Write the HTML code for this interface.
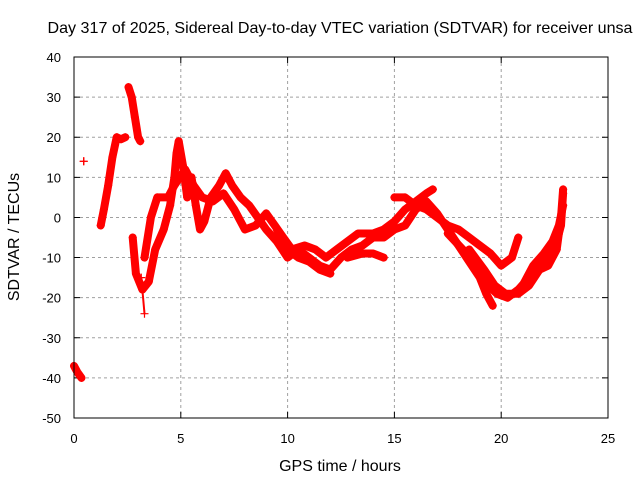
<!DOCTYPE html>
<html><head><meta charset="utf-8"><style>
body{margin:0;background:#fff;}
svg{display:block;font-family:"Liberation Sans",sans-serif;}
</style></head><body>
<svg id="chart" width="640" height="480" viewBox="0 0 640 480">
<text x="340" y="33" font-size="16" text-anchor="middle" textLength="585" lengthAdjust="spacingAndGlyphs">Day 317 of 2025, Sidereal Day-to-day VTEC variation (SDTVAR) for receiver unsa</text>
<text transform="translate(19,237) rotate(-90)" font-size="16" text-anchor="middle">SDTVAR / TECUs</text>
<text x="340" y="471" font-size="16" text-anchor="middle">GPS time / hours</text>
<g id="grid"></g>
<g id="ticks"></g>
<g id="series"></g>
<rect x="74" y="57" width="534" height="361" fill="none" stroke="#000" stroke-width="1"/>
</svg>
<script>
const xTicks=[0,5,10,15,20,25];
const yTicks=[40,30,20,10,0,-10,-20,-30,-40,-50];
const traceA=[[0,-37],[0.15,-38.5],[0.35,-40]];
const traceB=[[0.45,14],[0.46,14]];
const traceC=[[1.25,-2],[1.4,2],[1.6,8],[1.8,15],[2.0,20],[2.2,19.5],[2.4,20]];
const traceD=[[2.55,32.5],[2.7,30],[2.85,25],[3.0,20],[3.1,19]];
const traceE=[[2.75,-5],[2.9,-14],[3.2,-18],[3.5,-16],[3.8,-8],[4.2,-3],[4.5,3],[4.7,10],[4.8,16],[4.9,19],[5.1,13],[5.3,5],[5.5,10],[5.7,3],[5.9,-3],[6.1,-1],[6.4,5],[6.8,8],[7.1,11],[7.4,8],[7.8,5],[8.2,3],[8.6,0],[9.0,-3],[9.5,-6],[10,-10],[10.5,-8],[11,-10],[11.5,-12],[12,-13],[12.5,-10],[13,-8],[13.5,-7],[14,-5],[14.5,-5],[15,-3],[15.5,-2],[16,2],[16.5,4],[17,1],[17.5,-3],[18,-7],[18.5,-11],[19,-15],[19.3,-19],[19.6,-22]];
const traceE2=[[3.15,-15],[3.3,-24]];
const traceF=[[3.3,-10],[3.6,0],[3.9,5],[4.4,5],[4.7,8],[5.2,12],[5.6,8],[6,5],[6.5,4],[7,6],[7.5,2],[8,-3],[8.5,-2],[9,1],[9.4,-2],[9.8,-5],[10.2,-8],[10.8,-7],[11.3,-8],[11.8,-10],[12.3,-8],[12.8,-6],[13.3,-4],[14,-4],[14.5,-3],[15,-1],[15.5,2],[16,4],[16.5,6],[16.8,7]];
const traceG=[[9.5,-3],[10,-8],[10.5,-10],[11,-11],[11.5,-13],[12,-14]];
const traceH=[[12.8,-10],[13.5,-9],[14,-9],[14.5,-10]];
const traceI=[[15,5],[15.5,5],[16,3],[16.5,2],[17,0],[17.5,-2],[18,-3],[18.5,-5],[19,-7],[19.5,-9],[20,-12],[20.5,-10],[20.8,-5]];
const traceJ=[[17.5,-4],[18.2,-8],[18.8,-12],[19.2,-16],[19.8,-19],[20.3,-20],[20.8,-18],[21.3,-15],[21.8,-12],[22.2,-10],[22.5,-8],[22.8,-2],[22.9,6]];
const traceK=[[18.5,-8],[19.2,-13],[19.7,-17],[20.2,-19],[20.8,-19],[21.3,-17],[21.8,-13],[22.2,-12],[22.6,-8],[22.8,0],[22.9,7]];
const traceL=[[21,-17],[21.5,-12],[22,-9],[22.4,-6],[22.7,-2],[22.9,3]];
const traces=[traceA,traceB,traceC,traceD,traceE,traceE2,traceF,traceG,traceH,traceI,traceJ,traceK,traceL];

const NS="http://www.w3.org/2000/svg";
const x0=74,x1=608,y0=418,y1=57;
const X=t=>x0+(t-0)/(25-0)*(x1-x0);
const Y=v=>y0-(v+50)/(90)*(y0-y1);
function mk(tag,attrs,parent){const e=document.createElementNS(NS,tag);for(const k in attrs)e.setAttribute(k,attrs[k]);parent.appendChild(e);return e;}
const grid=document.getElementById('grid'),ticks=document.getElementById('ticks'),series=document.getElementById('series');
xTicks.forEach(t=>{
  const x=X(t);
  if(t>0&&t<25){const g=mk('line',{x1:x,x2:x,y1:y1,y2:y0,stroke:'#a0a0a0','stroke-dasharray':'3,3'},grid);
  
  }
  const tk=mk('path',{d:`M${x},${y0}v-6M${x},${y1}v6`,stroke:'#000'},ticks);
  
  
  const lb=mk('text',{x:x,y:443,'font-size':13,'text-anchor':'middle'},ticks);
  lb.textContent=t;
  
  
});
yTicks.forEach(v=>{
  const y=Y(v);
  if(v<40&&v>-50){const g=mk('line',{x1:x0,x2:x1,y1:y,y2:y,stroke:'#a0a0a0','stroke-dasharray':'3,3'},grid);
  
  }
  const tk=mk('path',{d:`M${x0},${y}h6M${x1},${y}h-6`,stroke:'#000'},ticks);
  
  
  const lb=mk('text',{x:61,y:y+5,'font-size':13,'text-anchor':'end'},ticks);
  lb.textContent=v;
  
  
});
traces.forEach(tr=>{
  const pts=tr.map(p=>X(p[0]).toFixed(1)+','+Y(p[1]).toFixed(1)).join(' ');
  const thick=tr.length>2?8:2;
  const pl=mk('polyline',{points:pts,fill:'none',stroke:'#f00','stroke-width':thick,'stroke-linejoin':'round','stroke-linecap':'round'},series);
  
  
  tr.forEach(p=>{
    const cx=X(p[0]),cy=Y(p[1]);
    const m=mk('path',{d:`M${cx-4},${cy}h8M${cx},${cy-4}v8`,stroke:'#f00','stroke-width':1.2},series);
    
    
  });
});
</script>
</body></html>
